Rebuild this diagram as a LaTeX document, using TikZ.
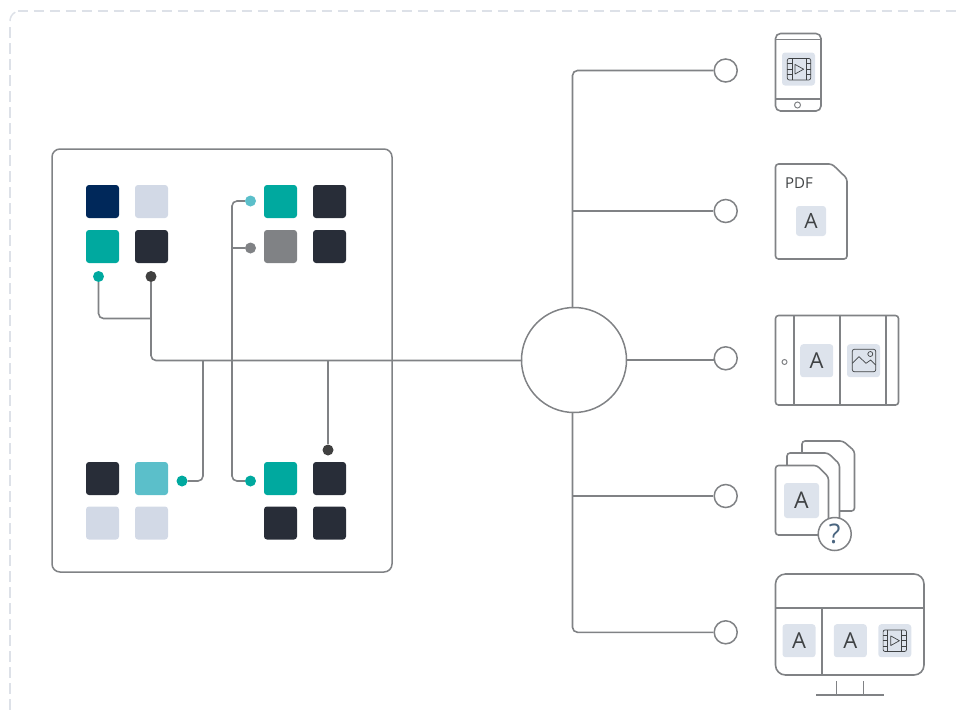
\documentclass[tikz,border=0pt]{standalone}
\usepackage{fontspec}
\setmainfont{Open Sans}
\definecolor{ln}{HTML}{808285}
\definecolor{dsh}{HTML}{DDE1E8}
\definecolor{navy}{HTML}{00285A}
\definecolor{pale}{HTML}{D2D9E6}
\definecolor{teal2}{HTML}{00A99F}
\definecolor{dark}{HTML}{282D38}
\definecolor{lteal}{HTML}{5BBFCA}
\definecolor{dotd}{HTML}{404040}
\definecolor{tile}{HTML}{DDE3EC}
\definecolor{ink}{HTML}{3F4244}
\definecolor{qm}{HTML}{4A6580}
\tikzset{
  sq/.style={minimum size=33pt,inner sep=0pt,rounded corners=3pt,fill=#1},
  dotn/.style={circle,minimum size=11pt,inner sep=0pt,fill=#1},
  wire/.style={draw=ln,line width=1.6pt,rounded corners=5pt},
  port/.style={circle,draw=ln,line width=1.5pt,fill=white,minimum size=23pt,inner sep=0pt},
  outline/.style={draw=ln,line width=1.6pt,line join=round},
  tilen/.style={minimum size=#1,inner sep=0pt,rounded corners=3pt,fill=tile,text=ink,font=\fontsize{22}{22}\selectfont},
  tilen/.default=33pt,
  ico/.style={draw=ink,line width=0.7pt,line join=round},
  dashframe/.style={dsh,line width=1.5pt,dash pattern=on 10.5pt off 5.5pt},
}
\newcommand{\filmicon}[2]{%
  \begin{scope}[shift={(#1,#2)}]
    \draw[ico,rounded corners=2pt] (-11.7,-10.8) rectangle (11.7,10.8);
    \draw[ico] (-7,-10.8) -- (-7,10.8) (7,-10.8) -- (7,10.8);
    \draw[ico] (-11.7,-5.4) -- (-7,-5.4) (-11.7,0) -- (-7,0) (-11.7,5.4) -- (-7,5.4)
               (11.7,-5.4) -- (7,-5.4) (11.7,0) -- (7,0) (11.7,5.4) -- (7,5.4);
    \draw[ico] (-4,-4.8) -- (4.6,0) -- (-4,4.8) -- cycle;
  \end{scope}}
\begin{document}
\begin{tikzpicture}[x=1pt,y=-1pt]
\useasboundingbox (0,0) rectangle (958,713);
% outer dashed frame
\draw[dashframe] (17.7,11) -- (958,11);
\draw[dashframe] (10,27) -- (10,713);
\draw[dsh,line width=1.5pt] (10,21) arc[start angle=180,end angle=118,radius=10pt];
% main box
\node[draw=ln,line width=1.5pt,rounded corners=8pt,minimum width=340pt,minimum height=423pt,inner sep=0pt] (panel) at (222,360.5) {};
% squares
\node[sq=navy] (a1) at (102.5,201.5) {};
\node[sq=pale] (a2) at (151.5,201.5) {};
\node[sq=teal2] (a3) at (102.5,246.5) {};
\node[sq=dark] (a4) at (151.5,246.5) {};
\node[sq=teal2] (b1) at (280.5,201.5) {};
\node[sq=dark] (b2) at (329.5,201.5) {};
\node[sq=ln] (b3) at (280.5,246.5) {};
\node[sq=dark] (b4) at (329.5,246.5) {};
\node[sq=dark] (c1) at (102.5,478.5) {};
\node[sq=lteal] (c2) at (151.5,478.5) {};
\node[sq=pale] (c3) at (102.5,523) {};
\node[sq=pale] (c4) at (151.5,523) {};
\node[sq=teal2] (d1) at (280.5,478.5) {};
\node[sq=dark] (d2) at (329.5,478.5) {};
\node[sq=dark] (d3) at (280.5,523) {};
\node[sq=dark] (d4) at (329.5,523) {};
% hub and ports
\node[circle,draw=ln,line width=1.5pt,minimum size=105pt,inner sep=0pt] (hub) at (574,360) {};
\node[port] (p1) at (725.7,70.5) {};
\node[port] (p2) at (725.7,211) {};
\node[port] (p3) at (725.7,358.3) {};
\node[port] (p4) at (725.7,496) {};
\node[port] (p5) at (725.7,632.3) {};
% dots
\node[dotn=teal2] (e1) at (98.5,276.5) {};
\node[dotn=dotd] (e2) at (151,276.5) {};
\node[dotn=lteal] (e3) at (250.5,201) {};
\node[dotn=ln] (e4) at (250.5,248) {};
\node[dotn=teal2] (e5) at (182,481) {};
\node[dotn=teal2] (e6) at (250.5,481) {};
\node[dotn=dotd] (e7) at (328,450) {};
% junctions
\coordinate (j1) at (151,318.5);
\coordinate (j2) at (203,360.5);
\coordinate (j3) at (328,360.5);
\coordinate (j4) at (232,248);
\coordinate (j5) at (572.5,211);
\coordinate (j6) at (572.5,496);
\coordinate (h1) at (522,360.5);
\coordinate (h2) at (626.5,360);
\coordinate (p3w) at (714.3,360);
% left wires
\draw[wire] (e1) |- (j1);
\draw[wire] (e2) |- (h1);
\draw[wire] (j2) |- (e5);
\draw[wire] (e3) -| (232,340) |- (e6);
\draw[wire] (j4) -- (e4);
\draw[wire] (j3) -- (e7);
% right wires
\draw[wire] (572.5,308) |- (p1);
\draw[wire] (j5) -- (p2);
\draw[wire] (h2) -- (p3w);
\draw[wire] (j6) -- (p4);
\draw[wire] (572.5,412) |- (p5);
% phone
\draw[outline,rounded corners=5pt] (775.5,33.5) rectangle (821,111);
\draw[outline] (775.5,39.5) -- (821,39.5) (775.5,98.7) -- (821,98.7);
\draw[ln,line width=1pt] (797.5,105) circle[radius=3pt];
\node[tilen] (t1) at (798.5,69) {};
\filmicon{799}{69.2}
% pdf
\draw[outline,rounded corners=3pt] (775.5,164) -- (832,164) -- (847,178.5) -- (847,259) -- (775.5,259) -- cycle;
\node[text=ink,font=\fontsize{15}{15}\selectfont,inner sep=0pt] (pdf) at (799,183.5) {PDF};
\node[tilen=30pt,font=\fontsize{21}{21}\selectfont] (t2) at (811,221) {A};
% tablet
\draw[outline,rounded corners=3pt] (775.5,315.5) rectangle (898.5,405);
\draw[outline,line width=1.9pt] (794,315.5) -- (794,405) (886,315.5) -- (886,405);
\draw[outline] (839.7,315.5) -- (839.7,405);
\draw[ln,line width=1pt] (784.5,362) circle[radius=2.5pt];
\node[tilen] (t3) at (816.7,360.7) {A};
\node[tilen] (t4) at (863.5,360.7) {};
\draw[ico,rounded corners=2pt] (852.3,349.3) rectangle (875.7,371.7);
\draw[ico] (852.3,363.3) -- (859,356.7) -- (866,363.3) -- (870.7,360) -- (875.7,365);
\draw[ico] (870.3,354) circle[radius=2.5pt];
% stacked pages
\draw[outline,fill=white,rounded corners=3pt] (802,441) -- (843,441) -- (854.5,451) -- (854.5,511) -- (802,511) -- cycle;
\draw[outline,fill=white,rounded corners=3pt] (787,453) -- (828,453) -- (839.5,464) -- (839.5,523) -- (787,523) -- cycle;
\draw[outline,fill=white,rounded corners=3pt] (775.5,465.5) -- (817,465.5) -- (828.5,477) -- (828.5,535) -- (775.5,535) -- cycle;
\node[tilen=35pt,font=\fontsize{23}{23}\selectfont] (t5) at (801.5,500.5) {A};
\node[circle,draw=ln,line width=1.5pt,fill=white,minimum size=33pt,inner sep=0pt,text=qm,font=\fontsize{27}{27}\selectfont] (q) at (834.7,534) {?};
% monitor
\draw[outline,rounded corners=10pt] (775.5,574) rectangle (924,675);
\draw[outline] (775.5,607.7) -- (924,607.7) (822,607.7) -- (822,675);
\node[tilen] (t6) at (799,640.7) {A};
\node[tilen] (t7) at (850.3,640.7) {A};
\node[tilen] (t8) at (894.8,640.7) {};
\filmicon{894.8}{640.7}
\draw[outline] (836.5,681) -- (836.5,695) (863.5,681) -- (863.5,695) (816,695) -- (884,695);
\end{tikzpicture}
\end{document}
